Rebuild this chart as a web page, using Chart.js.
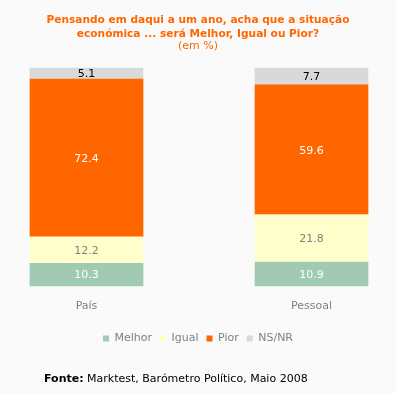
<!DOCTYPE html>
<html>
<head>
<meta charset="utf-8">
<script src="https://cdn.jsdelivr.net/npm/chart.js@4"></script>
<style>
html,body{margin:0;padding:0;background:#fafafa;}
#wrap{width:396px;height:393px;position:relative;}
</style>
</head>
<body>
<div id="wrap"><canvas id="c"></canvas></div>
<script>
const categories = ['País', 'Pessoal'];
const melhor = [10.3, 10.9];
const igual = [12.2, 21.8];
const pior = [72.4, 59.6];
const nsnr = [5.1, 7.7];
const seriesNames = ['Melhor', 'Igual', 'Pior', 'NS/NR'];
const titleLines = ['Pensando em daqui a um ano, acha que a situação', 'económica ... será Melhor, Igual ou Pior?'];
const subtitleText = '(em %)';
const sourceBold = 'Fonte:';
const sourceText = ' Marktest, Barómetro Político, Maio 2008';

const FONT = "'DejaVu Sans', Verdana, sans-serif";
const colors = ['#a0cbb2', '#ffffcc', '#ff6600', '#d9d9d9'];
const labelColors = ['#ffffff', '#808080', '#ffffff', '#000000'];

const valueLabels = {
  id: 'valueLabels',
  afterDatasetsDraw(chart) {
    const ctx = chart.ctx;
    ctx.save();
    ctx.font = '11px ' + FONT;
    ctx.textAlign = 'center';
    ctx.textBaseline = 'middle';
    chart.data.datasets.forEach((ds, i) => {
      const meta = chart.getDatasetMeta(i);
      meta.data.forEach((el, j) => {
        const p = el.getProps(['x', 'y', 'base'], true);
        ctx.fillStyle = labelColors[i];
        ctx.fillText(ds.data[j].toFixed(1), p.x, (p.y + p.base) / 2 + 1);
      });
    });
    ctx.restore();
  }
};

const sourceLine = {
  id: 'sourceLine',
  afterDraw(chart) {
    const ctx = chart.ctx;
    ctx.save();
    ctx.textBaseline = 'middle';
    ctx.textAlign = 'left';
    ctx.fillStyle = '#000000';
    ctx.font = 'bold 11px ' + FONT;
    ctx.fillText(sourceBold, 44, 379);
    const w = ctx.measureText(sourceBold).width;
    ctx.font = '11px ' + FONT;
    ctx.fillText(sourceText, 44 + w, 379);
    ctx.restore();
  }
};

new Chart(document.getElementById('c'), {
  type: 'bar',
  data: {
    labels: categories,
    datasets: [melhor, igual, pior, nsnr].map((d, i) => ({
      label: seriesNames[i],
      data: d,
      backgroundColor: colors[i],
      borderWidth: 0,
      barThickness: 113,
      clip: false
    }))
  },
  options: {
    responsive: true,
    maintainAspectRatio: false,
    animation: false,
    layout: { padding: { left: 0, right: 0, top: 0, bottom: 39 } },
    scales: {
      x: {
        stacked: true,
        offset: false,
        grid: { display: false },
        border: { display: false },
        ticks: { color: '#808080', font: { family: FONT, size: 11 }, padding: 6 },
        afterFit(scale) { scale.height += 6; }
      },
      y: {
        stacked: true,
        position: 'left',
        min: 0,
        max: 100,
        grid: { display: false },
        border: { display: false },
        ticks: { display: false },
        afterFit(scale) { scale.width = 86.5; }
      },
      y2: {
        position: 'right',
        min: 0,
        max: 100,
        grid: { display: false },
        border: { display: false },
        ticks: { display: false },
        afterFit(scale) { scale.width = 84.5; }
      }
    },
    plugins: {
      title: {
        display: true,
        text: titleLines,
        color: '#ff6600',
        font: { family: FONT, size: 10.6, weight: 'bold', lineHeight: 1.32 },
        padding: { top: 13, bottom: 0 }
      },
      subtitle: {
        display: true,
        text: subtitleText,
        color: '#ff6600',
        font: { family: FONT, size: 11, weight: 'normal', lineHeight: 1.0 },
        padding: { top: 0, bottom: 16 }
      },
      legend: {
        position: 'bottom',
        labels: {
          color: '#808080',
          font: { family: FONT, size: 11 },
          boxWidth: 6,
          boxHeight: 6,
          padding: 8
        }
      },
      tooltip: { enabled: false }
    }
  },
  plugins: [valueLabels, sourceLine]
});
</script>
</body>
</html>
